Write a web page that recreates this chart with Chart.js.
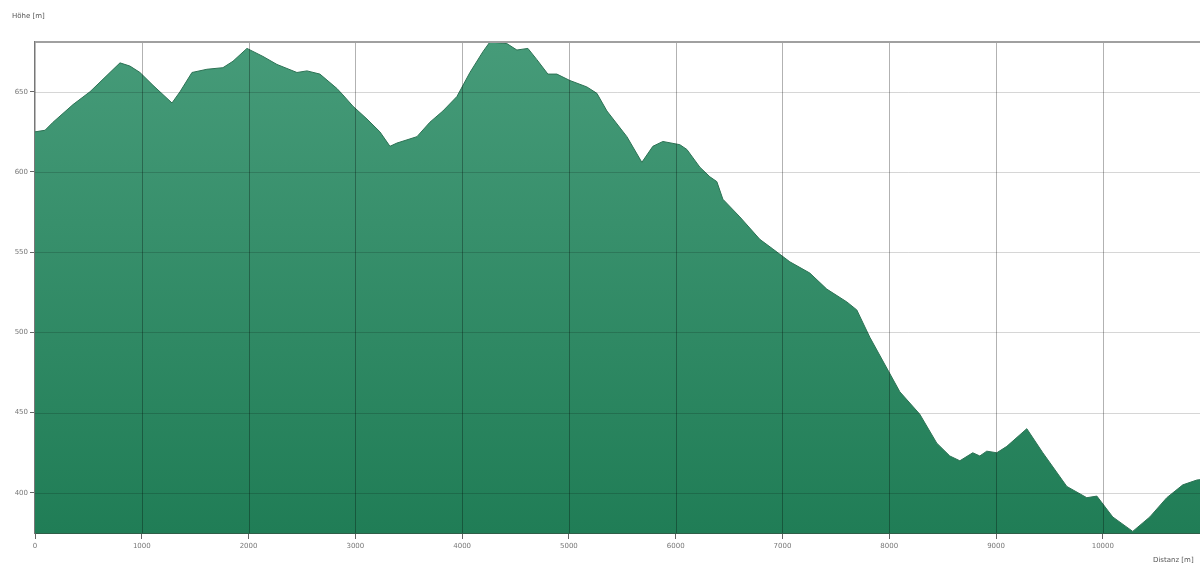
<!DOCTYPE html>
<html lang="de">
  <head>
    <meta charset="UTF-8" />
    <title>Höhenprofil</title>
    <style>
      html, body { margin: 0; padding: 0; background: #fff; overflow: hidden; }
      .wrap { position: relative; width: 1200px; height: 565px; }
      .axis-title {
        position: absolute;
        font-family: "DejaVu Sans", sans-serif;
        font-size: 7px;
        color: #555;
        white-space: nowrap;
      }
      .axis-title--y { left: 12px; top: 12px; }
      .axis-title--x { left: 1153px; top: 556px; }
    </style>
  </head>
  <body>
    <div class="wrap">
      <canvas id="profile"></canvas>
      <div class="axis-title axis-title--y">Höhe [m]</div>
      <div class="axis-title axis-title--x">Distanz [m]</div>
    </div>
    <script src="https://cdn.jsdelivr.net/npm/chart.js"></script>
    <script>
      // distance along the route [m]
      const distances = [
        0, 94, 169, 356, 515, 796, 889, 983, 1105, 1283, 1358, 1470, 1610, 1760,
        1854, 1985, 2135, 2266, 2453, 2547, 2668, 2828, 2884, 2977, 3109, 3230,
        3324, 3389, 3577, 3698, 3820, 3951, 4073, 4195, 4260, 4419, 4513, 4616,
        4700, 4803, 4887, 5009, 5168, 5262, 5356, 5543, 5683, 5786, 5880, 6039,
        6105, 6226, 6320, 6385, 6442, 6601, 6788, 6910, 7069, 7256, 7415, 7603,
        7696, 7818, 8099, 8286, 8445, 8567, 8661, 8782, 8848, 8913, 9007, 9101,
        9288, 9438, 9663, 9850, 9944, 10093, 10280, 10440, 10599, 10749, 10880,
        11000,
      ];
      // elevation [m]
      const elevations = [
        625, 626, 631, 642, 650, 668, 666, 662, 654, 643, 650, 662, 664, 665,
        669, 677, 672, 667, 662, 663, 661, 652, 648, 641, 633, 625,
        616, 618, 622, 631, 638, 647, 662, 675, 681, 680, 676, 677,
        670, 661, 661, 657, 653, 649, 638, 622, 606, 616, 619, 617,
        614, 603, 597, 594, 583, 572, 558, 552, 544, 537, 527, 519,
        514, 497, 463, 449, 431, 423, 420, 425, 423, 426, 425, 429,
        440, 425, 404, 397, 398, 385, 376, 385, 397, 405, 408,
        409,
      ];
      const xTicks = [0, 1000, 2000, 3000, 4000, 5000, 6000, 7000, 8000, 9000, 10000];
      const yTicks = [400, 450, 500, 550, 600, 650];

      const points = distances.map((d, i) => ({ x: d, y: elevations[i] }));

      // grid lines sit on top of the filled profile
      const overlayGrid = {
        id: "overlayGrid",
        afterDatasetsDraw(chart) {
          const { ctx, chartArea: a, scales } = chart;
          ctx.save();
          ctx.lineWidth = 1;
          ctx.strokeStyle = "rgba(0,0,0,0.16)";
          yTicks.forEach((v) => {
            const py = Math.round(scales.y.getPixelForValue(v)) + 0.5;
            ctx.beginPath();
            ctx.moveTo(a.left, py);
            ctx.lineTo(a.right, py);
            ctx.stroke();
          });
          ctx.strokeStyle = "rgba(0,0,0,0.3)";
          xTicks.forEach((v) => {
            const px = Math.round(scales.x.getPixelForValue(v)) + 0.5;
            if (px <= a.left + 1) return;
            ctx.beginPath();
            ctx.moveTo(px, a.top);
            ctx.lineTo(px, a.bottom);
            ctx.stroke();
          });
          // top frame line
          ctx.strokeStyle = "#a0a0a0";
          ctx.lineWidth = 2;
          ctx.beginPath();
          ctx.moveTo(a.left, a.top);
          ctx.lineTo(a.right, a.top);
          ctx.stroke();
          ctx.restore();
        },
      };

      const canvas = document.getElementById("profile");
      new Chart(canvas, {
        type: "line",
        data: {
          datasets: [
            {
              data: points,
              borderColor: "#2c7254",
              borderWidth: 1,
              pointRadius: 0,
              tension: 0,
              fill: "start",
              backgroundColor: (context) => {
                const area = context.chart.chartArea;
                if (!area) return "#2f8a63";
                const g = context.chart.ctx.createLinearGradient(0, area.top, 0, area.bottom);
                g.addColorStop(0, "#469b79");
                g.addColorStop(1, "#207d56");
                return g;
              },
            },
          ],
        },
        plugins: [overlayGrid],
        options: {
          responsive: true,
          maintainAspectRatio: false,
          animation: false,
          layout: { padding: { top: 42, right: 0, left: 0, bottom: 0 } },
          plugins: {
            legend: { display: false },
            tooltip: { enabled: false },
          },
          scales: {
            x: {
              type: "linear",
              min: 0,
              max: 10910,
              afterFit: (s) => { s.height = 32; },
              afterBuildTicks: (s) => { s.ticks = xTicks.map((v) => ({ value: v })); },
              grid: {
                drawOnChartArea: false,
                drawTicks: true,
                tickLength: 6,
                color: "#666",
              },
              border: { display: true, color: "#2f5e48", width: 2 },
              ticks: {
                padding: 3,
                maxRotation: 0,
                autoSkip: false,
                color: "#777",
                font: { family: "DejaVu Sans", size: 7 },
                callback: (v) => String(v),
              },
            },
            y: {
              min: 375,
              max: 681,
              afterFit: (s) => { s.width = 35; },
              afterBuildTicks: (s) => { s.ticks = yTicks.map((v) => ({ value: v })); },
              grid: {
                drawOnChartArea: false,
                drawTicks: true,
                tickLength: 5,
                color: "#666",
              },
              border: { display: true, color: "#777", width: 1.5 },
              ticks: {
                padding: 2,
                color: "#777",
                font: { family: "DejaVu Sans", size: 7 },
                callback: (v) => String(v),
              },
            },
          },
        },
      });
    </script>
  </body>
</html>
